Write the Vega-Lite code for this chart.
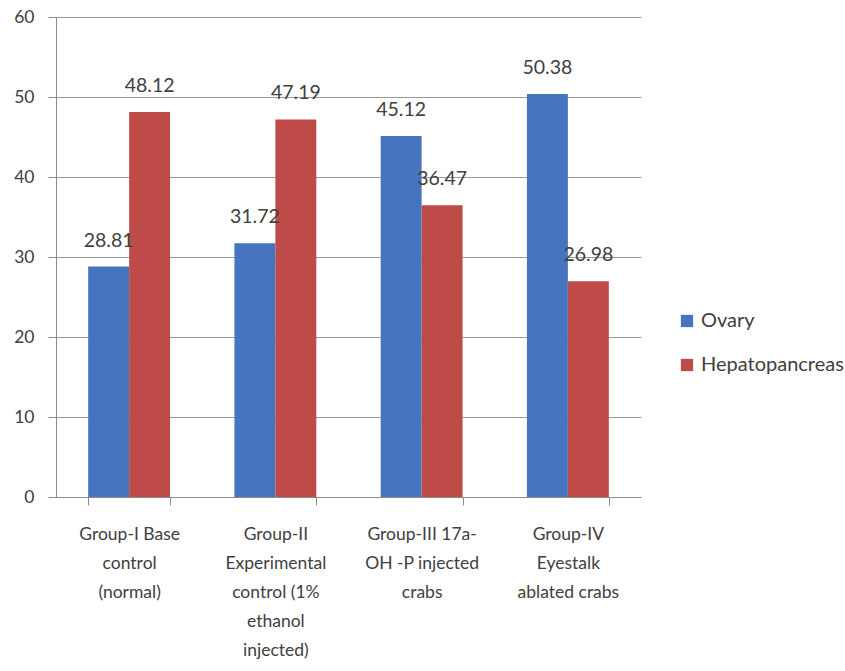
{
  "$schema": "https://vega.github.io/schema/vega-lite/v6.json",
  "width": 585,
  "height": 480,
  "autosize": {"type": "none"},
  "padding": {"left": 56, "top": 17, "right": 204, "bottom": 174},
  "background": "white",
  "config": {
    "view": {"stroke": null},
    "font": "Lato",
    "text": {"font": "Lato"}
  },
  "data": {
    "values": [
      {"group": "Group-I Base|control|(normal)", "tissue": "Ovary", "value": 28.81},
      {"group": "Group-I Base|control|(normal)", "tissue": "Hepatopancreas", "value": 48.12},
      {"group": "Group-II|Experimental|control (1%|ethanol|injected)", "tissue": "Ovary", "value": 31.72},
      {"group": "Group-II|Experimental|control (1%|ethanol|injected)", "tissue": "Hepatopancreas", "value": 47.19},
      {"group": "Group-III 17a-|OH -P injected|crabs", "tissue": "Ovary", "value": 45.12},
      {"group": "Group-III 17a-|OH -P injected|crabs", "tissue": "Hepatopancreas", "value": 36.47},
      {"group": "Group-IV|Eyestalk|ablated crabs", "tissue": "Ovary", "value": 50.38},
      {"group": "Group-IV|Eyestalk|ablated crabs", "tissue": "Hepatopancreas", "value": 26.98}
    ]
  },
  "encoding": {
    "x": {
      "field": "group",
      "type": "nominal",
      "sort": null,
      "scale": {"paddingInner": 0.44, "paddingOuter": 0.22},
      "axis": {
        "title": null,
        "labelAngle": 0,
        "labelExpr": "datum.value ? split(datum.value, '|') : ''",
        "labelFont": "Lato",
        "labelFontSize": 17.5,
        "labelColor": "#404040",
        "labelLineHeight": 29,
        "labelPadding": 20,
        "labelLimit": 300,
        "tickBand": "extent",
        "tickSize": 8,
        "tickColor": "#8c8c8c",
        "domainColor": "#8c8c8c",
        "grid": false
      }
    },
    "xOffset": {"field": "tissue", "type": "nominal", "sort": ["Ovary", "Hepatopancreas"]},
    "y": {
      "field": "value",
      "type": "quantitative",
      "scale": {"domain": [0, 60]},
      "axis": {
        "title": null,
        "values": [0, 10, 20, 30, 40, 50, 60],
        "labelFont": "Lato",
        "labelFontSize": 17.5,
        "labelColor": "#404040",
        "labelPadding": 14,
        "tickSize": 8,
        "tickColor": "#8c8c8c",
        "domainColor": "#8c8c8c",
        "gridColor": "#999999",
        "gridWidth": 1.2
      }
    }
  },
  "layer": [
    {
      "mark": {"type": "bar"},
      "encoding": {
        "color": {
          "field": "tissue",
          "type": "nominal",
          "sort": ["Ovary", "Hepatopancreas"],
          "scale": {"domain": ["Ovary", "Hepatopancreas"], "range": ["#4674BE", "#BE4B48"]},
          "legend": {
            "title": null,
            "orient": "none",
            "legendX": 621,
            "legendY": 294,
            "symbolType": "square",
            "symbolSize": 150,
            "symbolStrokeWidth": 0,
            "labelFont": "Lato",
            "labelFontSize": 20,
            "labelColor": "#404040",
            "rowPadding": 24,
            "labelOffset": 4
          }
        }
      }
    },
    {
      "mark": {"type": "text", "baseline": "bottom", "dy": -16, "fontSize": 19.5, "color": "#404040", "font": "Lato"},
      "encoding": {
        "text": {"field": "value", "type": "quantitative", "format": ".2f"}
      }
    }
  ]
}
